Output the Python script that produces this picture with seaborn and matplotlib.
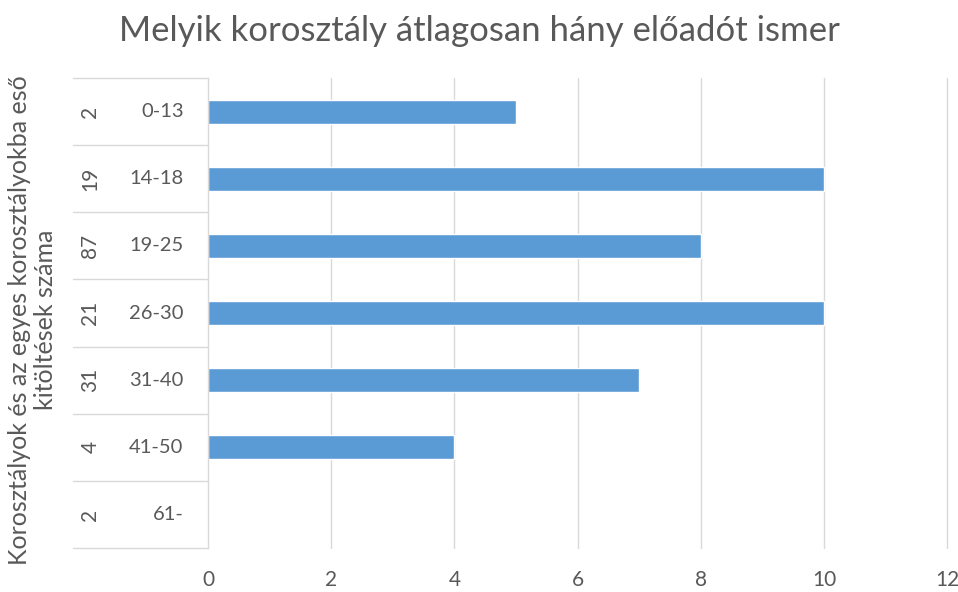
"""Horizontal bar chart: average number of known performers per age group."""
import matplotlib
matplotlib.use("Agg")
import matplotlib.pyplot as plt
import matplotlib.transforms as mtransforms
import pandas as pd
import seaborn as sns

# data
age_groups = ["0-13", "14-18", "19-25", "26-30", "31-40", "41-50", "61-"]
respondents = ["2", "19", "87", "21", "31", "4", "2"]
avg_known = [5, 10, 8, 10, 7, 4, 0]
x_ticks = [0, 2, 4, 6, 8, 10, 12]

TITLE = "Melyik korosztály átlagosan hány előadót ismer"
YLABEL = "Korosztályok és az egyes korosztályokba eső\nkitöltések száma"

GRAY = "#595959"
GRID = "#d9d9d9"
BLUE = "#5b9bd5"

sns.set_theme(style="white")
plt.rcParams["font.family"] = ["Lato", "DejaVu Sans"]

df = pd.DataFrame({"group": age_groups, "value": avg_known})

fig = plt.figure(figsize=(9.58, 5.92), dpi=100)
ax = fig.add_axes([0.2171, 0.0743, 0.7719, 0.7939])

sns.barplot(data=df, x="value", y="group", orient="h", color=BLUE,
            width=0.36, saturation=1, ax=ax)

ax.set_xlim(0, 12)
ax.set_ylim(len(age_groups) - 0.5, -0.5)
ax.set_xticks(x_ticks)
ax.set_xticklabels([str(t) for t in x_ticks])
ax.tick_params(axis="x", length=0, pad=16, labelsize=15, labelcolor=GRAY)
ax.set_yticks([])
ax.set_xlabel("")
ax.set_ylabel("")
for s in ["top", "right", "bottom"]:
    ax.spines[s].set_visible(False)
ax.spines["left"].set_color(GRID)
ax.spines["left"].set_linewidth(1)
ax.set_axisbelow(True)
for t in x_ticks[1:]:
    ax.axvline(t, color=GRID, lw=1, zorder=0, clip_on=False)

# multi-level category labels
trans = mtransforms.blended_transform_factory(ax.transAxes, ax.transData)
for i, (g, n) in enumerate(zip(age_groups, respondents)):
    ax.text(-0.033, i, g, transform=trans, ha="right", va="center",
            fontsize=14.5, color=GRAY)
    ax.text(-0.159, i, n, transform=trans, ha="center", va="center",
            rotation=90, fontsize=15, color=GRAY)
for b in range(len(age_groups) + 1):
    ax.plot([-0.183, 0], [b - 0.5, b - 0.5], transform=trans, color=GRID,
            lw=1, clip_on=False)

fig.text(0.034, 0.46, YLABEL, rotation=90, ha="center", va="center",
         multialignment="center", fontsize=18, color=GRAY,
         linespacing=1.15)
fig.text(0.5, 0.947, TITLE, ha="center", va="center", fontsize=25, color=GRAY)

fig.savefig("out.png", dpi=100)
